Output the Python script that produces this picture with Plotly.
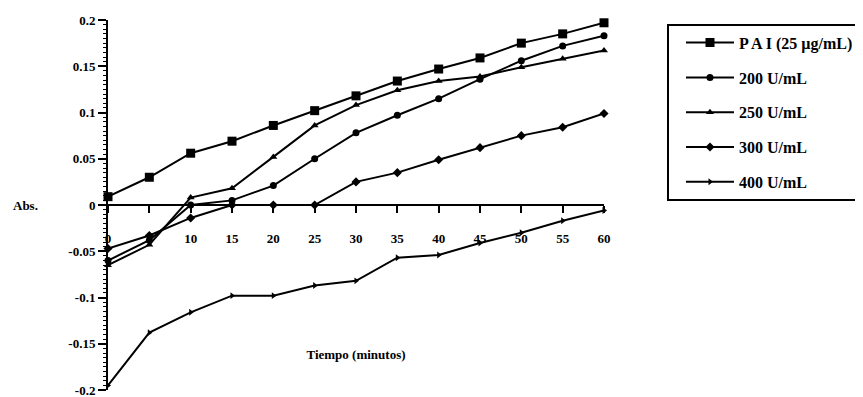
import plotly.graph_objects as go

tiempo = [0, 5, 10, 15, 20, 25, 30, 35, 40, 45, 50, 55, 60]
pai = [0.009, 0.030, 0.056, 0.069, 0.086, 0.102, 0.118, 0.134, 0.147, 0.159, 0.175, 0.185, 0.197]
u200 = [-0.060, -0.038, 0.000, 0.005, 0.021, 0.050, 0.078, 0.097, 0.115, 0.136, 0.156, 0.172, 0.183]
u250 = [-0.065, -0.043, 0.008, 0.018, 0.052, 0.086, 0.108, 0.124, 0.134, 0.139, 0.149, 0.158, 0.167]
u300 = [-0.047, -0.033, -0.014, 0.000, 0.000, 0.000, 0.025, 0.035, 0.049, 0.062, 0.075, 0.084, 0.099]
u400 = [-0.195, -0.138, -0.116, -0.098, -0.098, -0.087, -0.082, -0.057, -0.054, -0.041, -0.030, -0.017, -0.006]

names = ["P A I (25 \u00b5g/mL)", "200 U/mL", "250 U/mL", "300 U/mL", "400 U/mL"]
symbols = ["square", "circle", "triangle-up", "diamond", "triangle-right"]
sizes = [9, 7, 7, 7, 6]
series = [pai, u200, u250, u300, u400]

ytick_vals = [0.2, 0.15, 0.1, 0.05, 0, -0.05, -0.1, -0.15, -0.2]
ytick_text = ["0.2", "0.15", "0.1", "0.05", "0", "-0.05", "-0.1", "-0.15", "-0.2"]

FONT = "Liberation Serif"
PAD = "\u00a0" * 2

fig = go.Figure()
for i, (nm, sym, sz, ys) in enumerate(zip(names, symbols, sizes, series)):
    fig.add_trace(go.Scatter(
        x=tiempo, y=ys, name=nm + PAD, mode="lines+markers",
        line=dict(color="black", width=2),
        marker=dict(symbol=sym, size=sz, color="black"),
        cliponaxis=False, legendgroup=f"g{i}",
    ))

# page body has an 8px margin, so the figure is 855x389 placed at (8, 8)
fig.update_layout(
    width=855, height=389,
    margin=dict(l=100, r=259, t=12, b=7, autoexpand=False),
    paper_bgcolor="white", plot_bgcolor="white",
    font=dict(family=FONT, size=13, color="black", weight="bold"),
    showlegend=True,
    legend=dict(
        x=1.127, y=0.99, xanchor="left", yanchor="top",
        bordercolor="black", borderwidth=2,
        font=dict(family=FONT, size=16, color="black", weight="bold"),
        tracegroupgap=11, itemwidth=48, indentation=12,
    ),
    xaxis=dict(
        range=[0, 60], anchor="free", position=0.5,
        showline=True, linecolor="black", linewidth=2,
        ticks="outside", ticklen=7, tickwidth=2, tickcolor="black",
        tickvals=tiempo, ticklabelstandoff=14,
        showgrid=False, zeroline=False,
        title=dict(text="Tiempo (minutos)", standoff=104,
                   font=dict(family=FONT, size=13, weight="bold")),
        automargin=False,
    ),
    yaxis=dict(
        range=[-0.2, 0.2],
        showline=True, linecolor="black", linewidth=2,
        ticks="outside", ticklen=8, tickwidth=2, tickcolor="black",
        tickvals=ytick_vals, ticktext=ytick_text, ticklabeloverflow="allow",
        minor=dict(ticks="outside", dtick=0.005, ticklen=3, tickcolor="black", tickwidth=1),
        showgrid=False, zeroline=False, automargin=False,
    ),
    annotations=[dict(
        text="Abs.", x=-0.137, y=0, xref="paper", yref="y",
        xanchor="right", yanchor="middle", showarrow=False,
        font=dict(family=FONT, size=13, weight="bold"),
    )],
)

fig.write_html("out.html")
